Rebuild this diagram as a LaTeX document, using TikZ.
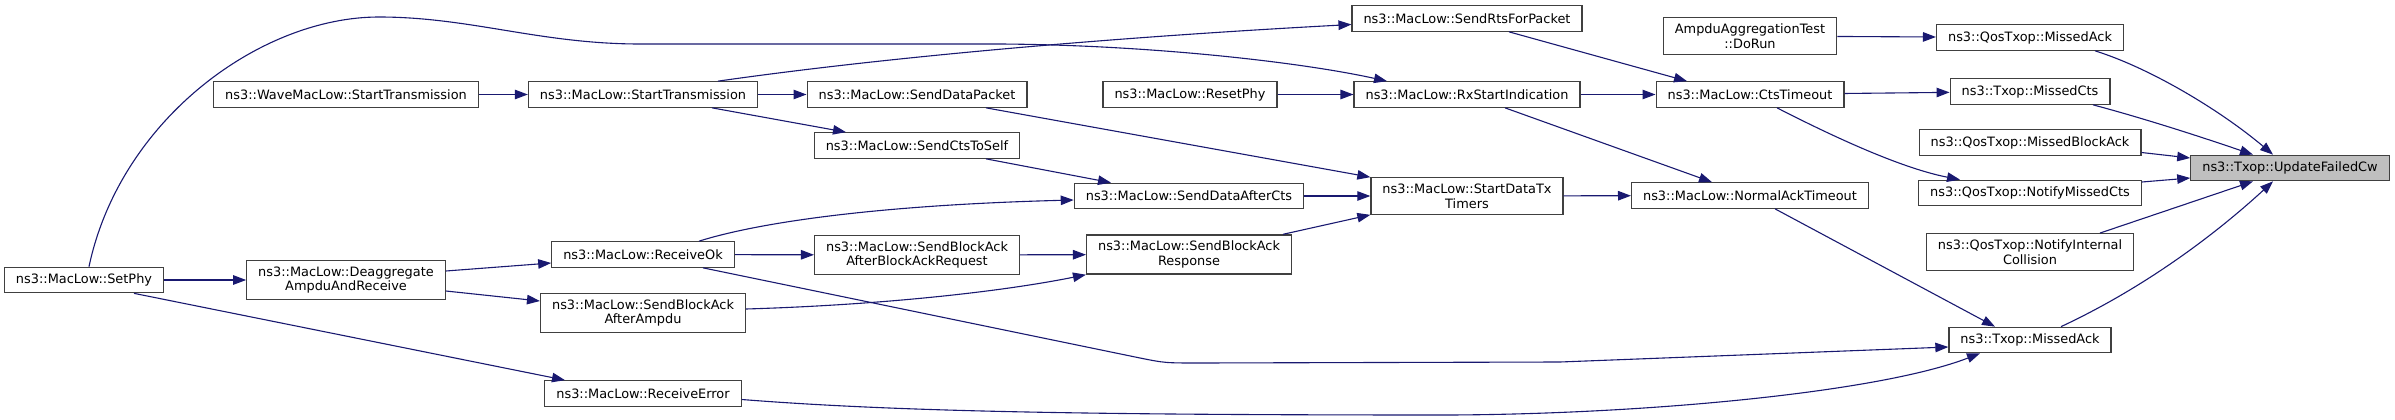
\documentclass[tikz,border=0pt]{standalone}
\usepackage{fontspec}
\setmainfont{DejaVu Sans}
\usetikzlibrary{arrows.meta}
\definecolor{edgeblue}{HTML}{191970}
\definecolor{nodeborder}{HTML}{404040}

\begin{document}
\begin{tikzpicture}[
  x=1pt,y=-1pt,
  fn/.style={draw=nodeborder,fill=white,line width=1.2pt,inner xsep=11.5pt,
    inner ysep=6pt,minimum height=25.5pt,align=center,
    font=\fontsize{12.9}{14.7}\selectfont},
  current/.style={fn,fill=black!25},
  call/.style={edgeblue,line width=1.1pt,-{Triangle[length=13pt,width=9.5pt]}}]

  \useasboundingbox (0,0) rectangle (2395,420);

  % columns, left to right
  \node[fn] (setphy) at (84,280) {ns3::MacLow::SetPhy};
  \node[fn] (wavestart) at (346,94.5) {ns3::WaveMacLow::StartTransmission};
  \node[fn] (deagg) at (346,280) {ns3::MacLow::Deaggregate\\AmpduAndReceive};
  \node[fn] (start) at (643,94.5) {ns3::MacLow::StartTransmission};
  \node[fn] (recok) at (643,254.5) {ns3::MacLow::ReceiveOk};
  \node[fn] (baampdu) at (643,313) {ns3::MacLow::SendBlockAck\\AfterAmpdu};
  \node[fn] (recerr) at (643,393.5) {ns3::MacLow::ReceiveError};
  \node[fn] (senddata) at (917,94.5) {ns3::MacLow::SendDataPacket};
  \node[fn] (ctsself) at (917,145.5) {ns3::MacLow::SendCtsToSelf};
  \node[fn] (babar) at (917,255) {ns3::MacLow::SendBlockAck\\AfterBlockAckRequest};
  \node[fn] (resetphy) at (1190,94.5) {ns3::MacLow::ResetPhy};
  \node[fn] (dataafter) at (1189,196) {ns3::MacLow::SendDataAfterCts};
  \node[fn] (baresp) at (1189,254.5) {ns3::MacLow::SendBlockAck\\Response};
  \node[fn] (rts) at (1467,18.5) {ns3::MacLow::SendRtsForPacket};
  \node[fn] (rxstart) at (1467,94.5) {ns3::MacLow::RxStartIndication};
  \node[fn] (datatx) at (1467,196) {ns3::MacLow::StartDataTx\\Timers};
  \node[fn] (dorun) at (1750,36) {AmpduAggregationTest\\::DoRun};
  \node[fn] (ctstimeout) at (1750,94.5) {ns3::MacLow::CtsTimeout};
  \node[fn] (normalack) at (1750,195.5) {ns3::MacLow::NormalAckTimeout};
  \node[fn] (qmissedack) at (2030,37.5) {ns3::QosTxop::MissedAck};
  \node[fn] (missedcts) at (2030,91.5) {ns3::Txop::MissedCts};
  \node[fn] (missedba) at (2030,142.5) {ns3::QosTxop::MissedBlockAck};
  \node[fn] (notifycts) at (2030,193) {ns3::QosTxop::NotifyMissedCts};
  \node[fn] (notifycoll) at (2030,252) {ns3::QosTxop::NotifyInternal\\Collision};
  \node[fn] (missedack) at (2030,340) {ns3::Txop::MissedAck};
  \node[current] (update) at (2290,168) {ns3::Txop::UpdateFailedCw};

  % straight calls
  \draw[call] (wavestart) -- (start);
  \draw[call] (start) -- (senddata);
  \draw[call] (resetphy) -- (rxstart);
  \draw[call] (rxstart) -- (ctstimeout);
  \draw[call] (dataafter) -- (datatx);
  \draw[call] (datatx) -- (normalack);
  \draw[call] (recok) -- (babar);
  \draw[call] (babar) -- (baresp);
  \draw[call] (setphy) -- (deagg);
  \draw[call] (ctstimeout) -- (missedcts);
  \draw[call] (dorun) -- (qmissedack);
  \draw[call] ([xshift=69pt]start.south) -- ([xshift=-71pt]ctsself.north);
  \draw[call] ([xshift=42pt]rts.south) -- ([xshift=-63pt]ctstimeout.north);
  \draw[call] ([xshift=38pt]rxstart.south) -- ([xshift=-38pt]normalack.north);
  \draw[call] ([xshift=69pt]senddata.south) -- (datatx.north west);
  \draw[call] ([xshift=69pt]ctsself.south) -- ([xshift=-78pt]dataafter.north);
  \draw[call] ([xshift=94pt]baresp.north) -- (datatx.south west);
  \draw[call] ([yshift=9pt]deagg.east) -- ([yshift=-8.5pt]recok.west);
  \draw[call] ([yshift=-11pt]deagg.east) -- ([yshift=12pt]baampdu.west);
  \draw[call] ([xshift=50pt]setphy.south) -- ([xshift=-78pt]recerr.north);
  \draw[call] ([xshift=25pt]normalack.south) -- ([xshift=-35pt]missedack.north);
  \draw[call] ([yshift=-10pt]missedba.east) -- ([yshift=10pt]update.west);
  \draw[call] ([yshift=11pt]notifycts.east) -- ([yshift=-10pt]update.west);
  \draw[call] ([xshift=70pt]notifycoll.north) -- ([xshift=-37pt]update.south);

  % curved calls
  \draw[call] ([xshift=75pt]start.north) .. controls (880,58) and (1100,38)
    .. ([yshift=-6pt]rts.west);
  \draw[call] ([xshift=5pt]setphy.north) .. controls (120,120) and (260,17) .. (379,17)
    .. controls (470,17) and (540,44) .. (640,44) -- (1000,44)
    .. controls (1150,45) and (1300,62) .. ([xshift=-80pt]rxstart.north);
  \draw[call] ([xshift=56pt]recok.north) .. controls (760,222) and (880,205)
    .. ([yshift=-4pt]dataafter.west);
  \draw[call] ([yshift=4pt]baampdu.east) .. controls (880,305) and (1000,292)
    .. (baresp.south west);
  \draw[call] ([xshift=60pt]recok.south) -- (1140,358) .. controls (1165,363) .. (1200,363)
    -- (1560,362) -- ([yshift=-7pt]missedack.west);
  \draw[call] ([yshift=-6pt]recerr.east) .. controls (900,412) and (1100,415) .. (1450,415)
    .. controls (1650,414) and (1880,392) .. ([xshift=-50pt]missedack.south);
  \draw[call] ([xshift=27pt]ctstimeout.south) .. controls (1830,135) and (1900,168)
    .. ([xshift=-70pt]notifycts.north);
  \draw[call] ([xshift=65pt]qmissedack.south) .. controls (2150,68) and (2220,110)
    .. ([xshift=-17pt]update.north);
  \draw[call] ([xshift=63pt]missedcts.south) .. controls (2150,120) and (2210,140)
    .. ([xshift=-37pt]update.north);
  \draw[call] ([xshift=31pt]missedack.north) .. controls (2150,285) and (2220,230)
    .. ([xshift=-17pt]update.south);
\end{tikzpicture}
\end{document}
